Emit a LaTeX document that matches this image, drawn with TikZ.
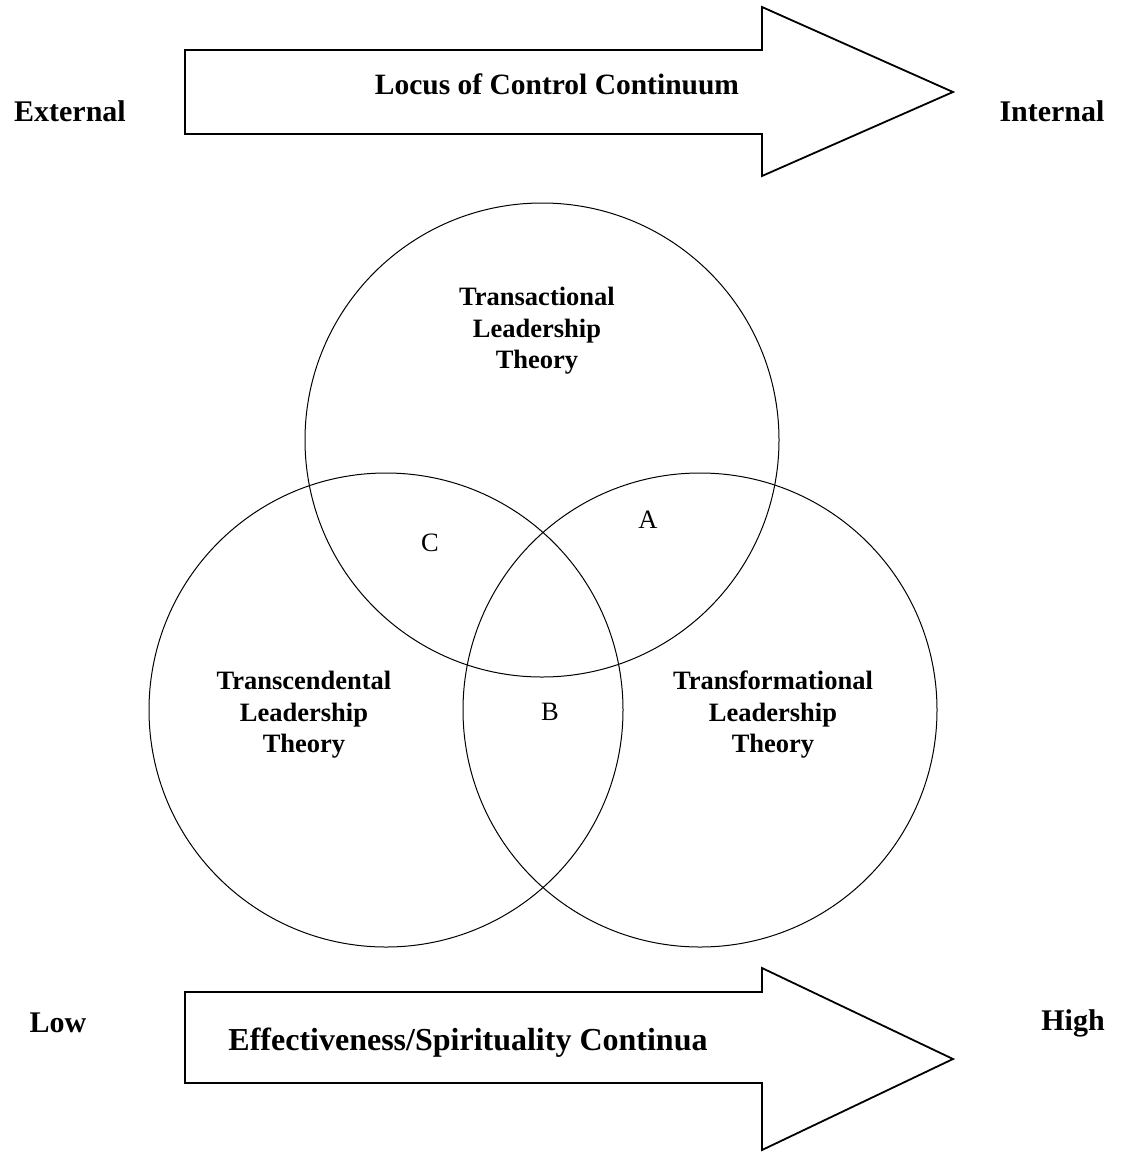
\documentclass[tikz,border=0pt]{standalone}
\usepackage{fontspec}
\setmainfont{Liberation Serif}
\begin{document}
\begin{tikzpicture}[x=1pt,y=-1pt,
  bigarrow/.style={draw=black, line width=1.8pt, line join=miter},
  venn/.style={draw=black, line width=1pt, circle, minimum size=474pt, inner sep=0pt},
  sidelabel/.style={font=\fontsize{30}{36}\selectfont\bfseries, inner sep=0pt},
  theory/.style={font=\fontsize{26.5}{31.5}\selectfont\bfseries, align=center, inner sep=0pt},
  region/.style={font=\fontsize{26.5}{31.5}\selectfont, inner sep=0pt}]
\useasboundingbox (0,0) rectangle (1121,1157);
% top arrow
\draw[bigarrow] (185,50) -- (762,50) -- (762,7) -- (953,92) -- (762,176) -- (762,134) -- (185,134) -- cycle;
\node[font=\fontsize{29.5}{35}\selectfont\bfseries, inner sep=0pt] (locus) at (557,84) {Locus of Control Continuum};
\node[sidelabel] (ext) at (70,111) {External};
\node[sidelabel] (int) at (1052,111) {Internal};
% circles
\node[venn] (ctop) at (542,440) {};
\node[venn] (cleft) at (386,710) {};
\node[venn] (cright) at (700,710) {};
\node[theory] (ttop) at (537,331) {Transactional\\Leadership\\Theory};
\node[theory] (tleft) at (304,715) {Transcendental\\Leadership\\Theory};
\node[theory] (tright) at (773,715) {Transformational\\Leadership\\Theory};
\node[region] (ra) at (648,520) {A};
\node[region] (rb) at (550,712) {B};
\node[region] (rc) at (430,543) {C};
% bottom arrow
\draw[bigarrow] (185,992) -- (762,992) -- (762,968) -- (953,1059) -- (762,1150) -- (762,1083) -- (185,1083) -- cycle;
\node[font=\fontsize{32}{38}\selectfont\bfseries, inner sep=0pt] (eff) at (468,1043) {Effectiveness/Spirituality Continua};
\node[sidelabel] (low) at (58,1023) {Low};
\node[sidelabel] (high) at (1073,1023) {High};
\end{tikzpicture}
\end{document}
